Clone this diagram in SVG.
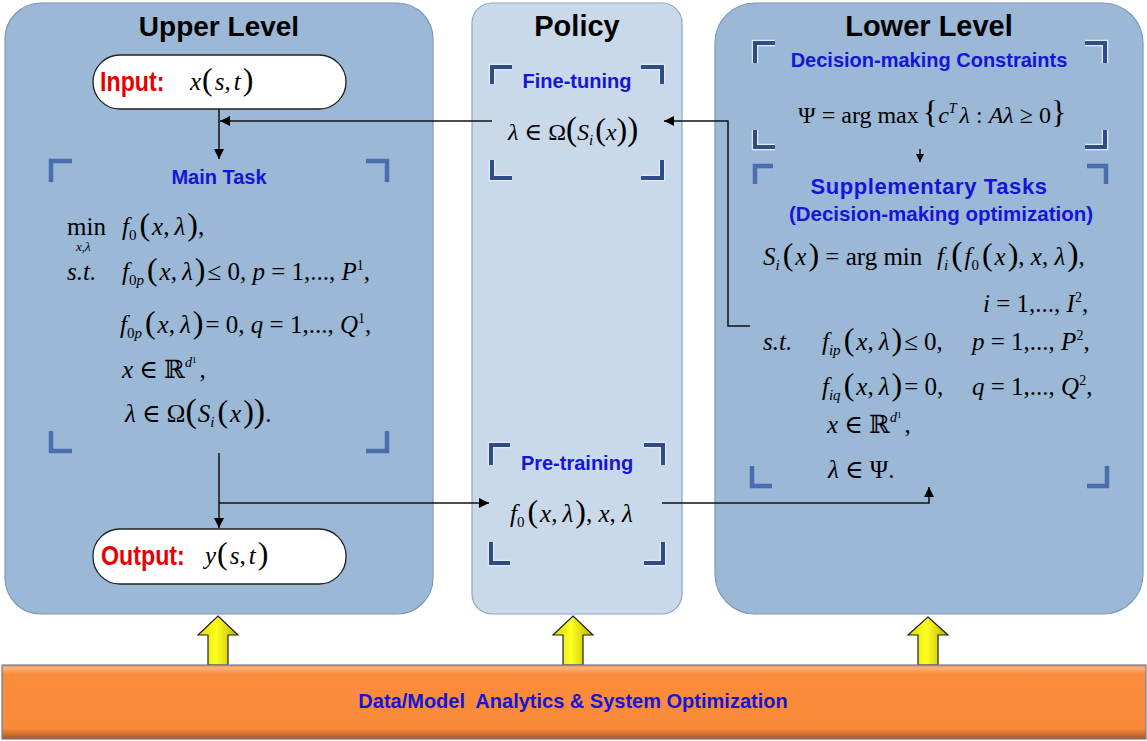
<svg xmlns="http://www.w3.org/2000/svg" width="1147" height="741" viewBox="0 0 1147 741">
<style>
.pan{fill:#9bb8d7;stroke:#7f98b8;stroke-width:1.2}
.pol{fill:#c9d9ea;stroke:#8fa5c0;stroke-width:1.2}
.ttl{font-family:"Liberation Sans",Arial,sans-serif;font-weight:bold;font-size:29px;fill:#000;text-anchor:middle}
.lbl{font-family:"Liberation Sans",Arial,sans-serif;font-weight:bold;font-size:20px;fill:#1515d8;text-anchor:middle}
.io{font-family:"Liberation Sans",Arial,sans-serif;font-weight:bold;font-size:27px;fill:#e60000}
.pill{fill:#fff;stroke:#222;stroke-width:1.3}
.m{font-family:"Liberation Serif","Times New Roman","DejaVu Serif",serif;font-size:25px;fill:#000}
.it{font-style:italic}
.sb{font-size:15px}
.sp{font-size:14px}
.bp{font-size:32px}
.bk1{fill:none;stroke:#4a6db0;stroke-width:4.5}
.bk2o{fill:none;stroke:#e4eaf2;stroke-width:6.5}
.bk2{fill:none;stroke:#2e4d88;stroke-width:4}
.cn{fill:none;stroke:#111;stroke-width:1.5}
.ya{stroke:#222;stroke-width:1.2;fill:url(#yg)}
</style>
<defs>
<marker id="ah" viewBox="0 0 10 10" refX="10" refY="5" markerWidth="10" markerHeight="10" markerUnits="userSpaceOnUse" orient="auto"><path d="M0,0 L10,5 L0,10 z" fill="#000"/></marker>
<marker id="ahs" viewBox="0 0 10 10" refX="10" refY="5" markerWidth="8" markerHeight="8" markerUnits="userSpaceOnUse" orient="auto"><path d="M0,0 L10,5 L0,10 z" fill="#000"/></marker>
<linearGradient id="yg" x1="0" y1="0" x2="1" y2="0">
<stop offset="0" stop-color="#d8d800"/><stop offset="0.45" stop-color="#ffff20"/><stop offset="1" stop-color="#b8b400"/>
</linearGradient>
<linearGradient id="og" x1="0" y1="0" x2="0" y2="1">
<stop offset="0" stop-color="#f08a40"/><stop offset="0.04" stop-color="#fcb27a"/><stop offset="0.12" stop-color="#fa8c3c"/><stop offset="0.86" stop-color="#f98a3a"/><stop offset="0.95" stop-color="#c8682c"/><stop offset="1" stop-color="#a05428"/>
</linearGradient>
</defs>

<g id="upper-level">
<rect class="pan" x="5" y="3" width="428" height="611" rx="36"/>
<text class="ttl" x="219" y="36" style="font-size:28px">Upper Level</text>
</g>
<g id="policy">
<rect class="pol" x="472" y="3" width="210" height="611" rx="20"/>
<text class="ttl" x="577" y="36">Policy</text>
</g>
<g id="lower-level">
<rect class="pan" x="715" y="3" width="428" height="611" rx="40"/>
<text class="ttl" x="929" y="36">Lower Level</text>
</g>

<g id="input">
<rect class="pill" x="93" y="55" width="253" height="54" rx="27"/>
<text class="io" transform="translate(100,91) scale(0.86,1)" x="0" y="0">Input:</text>
<text class="m" x="190" y="90"><tspan class="it">x</tspan><tspan class="bp" dx="1">(</tspan><tspan class="it" dx="2">s</tspan>,<tspan class="it" dx="3">t</tspan><tspan class="bp" dx="2">)</tspan></text>
</g>

<g id="main-task">
<path class="bk1" d="M51,182 V161 H72 M366,161 H387 V182 M51,431 V451 H72 M366,451 H387 V431"/>
<text class="lbl" x="219" y="184">Main Task</text>
<text class="m" x="67" y="235">min</text>
<text class="m it" x="76" y="251" style="font-size:13px">x,λ</text>
<text class="m" x="122" y="235"><tspan class="it">f</tspan><tspan class="sb" dy="5">0</tspan><tspan class="bp" dy="-5" dx="3">(</tspan><tspan class="it" dx="2">x</tspan>,<tspan class="it" dx="5">λ</tspan><tspan class="bp" dx="2">)</tspan>,</text>
<text class="m it" x="67" y="280">s.t.</text>
<text class="m" x="122" y="280"><tspan class="it">f</tspan><tspan class="sb" dy="5">0</tspan><tspan class="sb it">p</tspan><tspan class="bp" dy="-5" dx="3">(</tspan><tspan class="it" dx="2">x</tspan>,<tspan class="it" dx="5">λ</tspan><tspan class="bp" dx="2">)</tspan><tspan dx="2">≤ 0, </tspan><tspan class="it">p</tspan> = 1,..., <tspan class="it">P</tspan><tspan class="sp" dy="-10">1</tspan><tspan dy="10">,</tspan></text>
<text class="m" x="120" y="333"><tspan class="it">f</tspan><tspan class="sb" dy="5">0</tspan><tspan class="sb it">p</tspan><tspan class="bp" dy="-5" dx="3">(</tspan><tspan class="it" dx="2">x</tspan>,<tspan class="it" dx="5">λ</tspan><tspan class="bp" dx="2">)</tspan><tspan dx="2">= 0, </tspan><tspan class="it">q</tspan> = 1,..., <tspan class="it">Q</tspan><tspan class="sp" dy="-10">1</tspan><tspan dy="10">,</tspan></text>
<text class="m" x="122" y="378"><tspan class="it">x</tspan> ∈ ℝ<tspan class="sp it" dy="-11">d</tspan><tspan style="font-size:9px" dy="-4">1</tspan><tspan dy="15" dx="3">,</tspan></text>
<text class="m" x="125" y="422"><tspan class="it">λ</tspan> ∈ Ω<tspan class="bp" style="font-size:34px">(</tspan><tspan class="it" dx="1">S</tspan><tspan class="sb it" dy="5">i</tspan><tspan class="bp" dy="-5" dx="3">(</tspan><tspan class="it" dx="2">x</tspan><tspan class="bp" dx="2">)</tspan><tspan class="bp" style="font-size:34px">)</tspan>.</text>
</g>

<g id="output">
<rect class="pill" x="93" y="529" width="253" height="55" rx="27"/>
<text class="io" transform="translate(101,565) scale(0.86,1)" x="0" y="0">Output:</text>
<text class="m" x="205" y="564"><tspan class="it">y</tspan><tspan class="bp" dx="1">(</tspan><tspan class="it" dx="2">s</tspan>,<tspan class="it" dx="3">t</tspan><tspan class="bp" dx="2">)</tspan></text>
</g>

<g id="fine-tuning">
<path class="bk2o" d="M492,84 V67 H512 M641,67 H662 V84 M492,160 V178 H512 M641,178 H662 V160"/>
<path class="bk2" d="M492,84 V67 H512 M641,67 H662 V84 M492,160 V178 H512 M641,178 H662 V160"/>
<text class="lbl" x="577" y="88">Fine-tuning</text>
<text class="m" x="508" y="140" style="font-size:24px"><tspan class="it">λ</tspan> ∈ Ω<tspan class="bp" style="font-size:33px">(</tspan><tspan class="it">S</tspan><tspan class="sb it" dy="5">i</tspan><tspan class="bp" dy="-5" dx="2">(</tspan><tspan class="it">x</tspan><tspan class="bp">)</tspan><tspan class="bp" style="font-size:33px">)</tspan></text>
</g>

<g id="pre-training">
<path class="bk2o" d="M491,465 V445 H510 M644,445 H663 V465 M491,542 V563 H510 M644,563 H663 V542"/>
<path class="bk2" d="M491,465 V445 H510 M644,445 H663 V465 M491,542 V563 H510 M644,563 H663 V542"/>
<text class="lbl" x="577" y="470">Pre-training</text>
<text class="m" x="510" y="522"><tspan class="it">f</tspan><tspan class="sb" dy="5">0</tspan><tspan class="bp" dy="-5" dx="3">(</tspan><tspan class="it" dx="2">x</tspan>,<tspan class="it" dx="5">λ</tspan><tspan class="bp" dx="2">)</tspan>, <tspan class="it">x</tspan>, <tspan class="it">λ</tspan></text>
</g>

<g id="decision-constraints">
<path class="bk2o" d="M755,63 V43 H775 M1085,43 H1105 V63 M755,130 V147 H775 M1085,147 H1105 V130"/>
<path class="bk2" d="M755,63 V43 H775 M1085,43 H1105 V63 M755,130 V147 H775 M1085,147 H1105 V130"/>
<text class="lbl" x="929" y="67">Decision-making Constraints</text>
<text class="m" x="798" y="123" style="font-size:24px">Ψ = arg max<tspan class="bp" style="font-size:32px" dx="4">{</tspan><tspan class="it">c</tspan><tspan class="sp it" dy="-10">T</tspan><tspan class="it" dy="10" dx="3">λ</tspan> : <tspan class="it">A</tspan><tspan class="it">λ</tspan> ≥ 0<tspan class="bp" style="font-size:32px">}</tspan></text>
</g>

<g id="supplementary-tasks">
<path class="bk1" d="M755,184 V166 H773 M1087,166 H1106 V184 M752,466 V486 H772 M1087,486 H1107 V466"/>
<text class="lbl" x="929" y="194" style="font-size:22px;letter-spacing:0.6px">Supplementary Tasks</text>
<text class="lbl" x="941" y="221" style="font-size:20.5px">(Decision-making optimization)</text>
<text class="m" x="763" y="265"><tspan class="it">S</tspan><tspan class="sb it" dy="5">i</tspan><tspan class="bp" dy="-5" dx="3">(</tspan><tspan class="it" dx="2">x</tspan><tspan class="bp" dx="2">)</tspan> = arg min</text>
<text class="m" x="937" y="265"><tspan class="it">f</tspan><tspan class="sb it" dy="5">i</tspan><tspan class="bp" dy="-5" dx="3" style="font-size:34px">(</tspan><tspan class="it" dx="2">f</tspan><tspan class="sb" dy="5">0</tspan><tspan class="bp" dy="-5" dx="3">(</tspan><tspan class="it" dx="2">x</tspan><tspan class="bp" dx="2">)</tspan>, <tspan class="it">x</tspan>, <tspan class="it">λ</tspan><tspan class="bp" dx="2" style="font-size:34px">)</tspan>,</text>
<text class="m" x="983" y="312"><tspan class="it">i</tspan> = 1,..., <tspan class="it">I</tspan><tspan class="sp" dy="-10">2</tspan><tspan dy="10">,</tspan></text>
<text class="m it" x="763" y="350">s.t.</text>
<text class="m" x="822" y="350"><tspan class="it">f</tspan><tspan class="sb it" dy="5">ip</tspan><tspan class="bp" dy="-5" dx="3">(</tspan><tspan class="it" dx="2">x</tspan>,<tspan class="it" dx="5">λ</tspan><tspan class="bp" dx="2">)</tspan><tspan dx="2">≤ 0,</tspan></text>
<text class="m" x="972" y="350"><tspan class="it">p</tspan> = 1,..., <tspan class="it">P</tspan><tspan class="sp" dy="-10">2</tspan><tspan dy="10">,</tspan></text>
<text class="m" x="822" y="395"><tspan class="it">f</tspan><tspan class="sb it" dy="5">iq</tspan><tspan class="bp" dy="-5" dx="3">(</tspan><tspan class="it" dx="2">x</tspan>,<tspan class="it" dx="5">λ</tspan><tspan class="bp" dx="2">)</tspan><tspan dx="2">= 0,</tspan></text>
<text class="m" x="972" y="395"><tspan class="it">q</tspan> = 1,..., <tspan class="it">Q</tspan><tspan class="sp" dy="-10">2</tspan><tspan dy="10">,</tspan></text>
<text class="m" x="827" y="433"><tspan class="it">x</tspan> ∈ ℝ<tspan class="sp it" dy="-11">d</tspan><tspan style="font-size:9px" dy="-4">1</tspan><tspan dy="15" dx="3">,</tspan></text>
<text class="m" x="828" y="478"><tspan class="it">λ</tspan> ∈ Ψ.</text>
</g>

<g id="connectors">
<path class="cn" d="M219,109 V159" marker-end="url(#ah)"/>
<path class="cn" d="M492,121 H220" marker-end="url(#ah)"/>
<path class="cn" d="M750,326 H728 V121 H664" marker-end="url(#ah)"/>
<path class="cn" d="M219,453 V528" marker-end="url(#ah)"/>
<path class="cn" d="M219,503 H489" marker-end="url(#ah)"/>
<path class="cn" d="M662,503 H929 V487" marker-end="url(#ah)"/>
<path class="cn" d="M920,149 V162" marker-end="url(#ahs)"/>
</g>

<g id="support-arrows">
<path class="ya" d="M218,616 L238,635 L228,635 L228,665 L208,665 L208,635 L198,635 Z"/>
<path class="ya" d="M573,616 L593,635 L583,635 L583,665 L563,665 L563,635 L553,635 Z"/>
<path class="ya" d="M928,617 L948,635 L938,635 L938,665 L918,665 L918,635 L908,635 Z"/>
</g>

<g id="analytics-bar">
<rect x="2" y="665" width="1144" height="74" fill="url(#og)" stroke="#6d7fa6" stroke-width="1.2"/>
<text class="lbl" x="573" y="708" style="font-size:20px;white-space:pre">Data/Model  Analytics &amp; System Optimization</text>
</g>
</svg>
